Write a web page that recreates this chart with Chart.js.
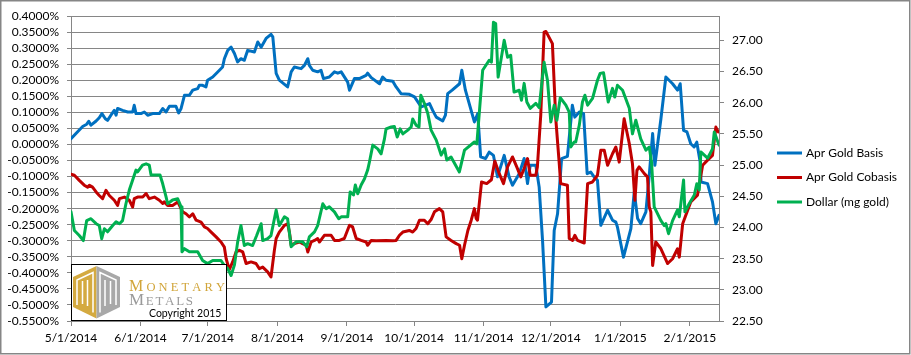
<!DOCTYPE html>
<html>
<head>
<meta charset="utf-8">
<script src="https://cdn.jsdelivr.net/npm/chart.js@4.4.1/dist/chart.umd.min.js"></script>
<style>
  html, body { margin: 0; padding: 0; background: #ffffff; }
  #wrap { width: 911px; height: 355px; position: relative; }
</style>
</head>
<body>
<div id="wrap"><canvas id="c" width="911" height="355"></canvas></div>
<script>
// Day offsets are counted from 5/1/2014 (day 0).
const monthTickDays = [0, 31, 61, 92, 123, 153, 184, 214, 245, 276];
const monthTickLabels = ['5/1/2014', '6/1/2014', '7/1/2014', '8/1/2014', '9/1/2014', '10/1/2014', '11/1/2014', '12/1/2014', '1/1/2015', '2/1/2015'];
const seriesNames = ['Apr Gold Basis', 'Apr Gold Cobasis', 'Dollar (mg gold)'];

// Apr Gold Basis (%), left axis
const basisDays = [0,5.2,7,7.9,8.9,11.2,12.6,13.8,15.3,16.3,17.8,19.3,20.1,20.8,23,25.3,27.5,28.2,29,31.2,32.7,34.2,36.4,39.4,40.9,42.4,43.9,46.8,48,49.1,50.6,52.8,54.3,56.5,57.2,58.7,60.2,60.9,63.2,66.2,67.6,68.4,69.9,71.4,72.9,74.3,75.8,77.3,78.8,81.8,83.3,84.8,87,89.2,90,91.5,92.9,96.6,98.2,99.6,102.6,104.1,105.6,106.3,107.8,110,111.5,112.6,115.2,117.5,119,120.5,123.4,124.2,126.4,128.6,131.6,132.3,133.9,137.6,139,140.5,143.5,145,147.2,150.9,153.2,156.2,159.9,161.3,162.9,165.8,167,168,170,173.3,174.3,175.9,179.9,181.4,182.7,184.9,186.5,188.4,190.2,193.2,195.4,196.9,199.9,202.1,203.6,204.8,207.3,208.8,210.3,211.8,214.3,215.5,217,218.8,221.4,223.6,224.7,226.7,228.6,230.2,231.8,233.3,234.8,236.3,239.3,241.5,243,243.7,246.4,249.7,251.2,252.7,254.1,256.4,257.9,259.4,260.4,263.1,265.3,268.3,270.5,271.7,273.2,274.7,276.4,277.9,279.1,280.6,281,283.9,286.1,287.6,289];
const basisValues = [0.018,0.056,0.063,0.072,0.060,0.073,0.083,0.096,0.080,0.075,0.091,0.106,0.091,0.112,0.106,0.101,0.101,0.122,0.096,0.096,0.101,0.091,0.096,0.096,0.112,0.101,0.119,0.119,0.098,0.112,0.153,0.153,0.169,0.174,0.184,0.184,0.179,0.200,0.210,0.231,0.241,0.267,0.293,0.303,0.283,0.257,0.267,0.262,0.293,0.288,0.319,0.303,0.330,0.343,0.335,0.221,0.200,0.179,0.226,0.241,0.236,0.246,0.267,0.246,0.231,0.226,0.231,0.205,0.210,0.226,0.222,0.226,0.194,0.169,0.205,0.205,0.215,0.222,0.208,0.189,0.210,0.200,0.197,0.179,0.158,0.156,0.148,0.117,0.127,0.106,0.085,0.073,0.091,0.158,0.169,0.189,0.231,0.169,0.070,0.096,-0.039,-0.044,-0.024,-0.034,-0.101,-0.034,-0.101,-0.127,-0.091,-0.044,-0.122,-0.065,-0.065,-0.133,-0.299,-0.506,-0.491,-0.268,-0.216,-0.044,-0.037,0.122,0.085,0.101,0.096,-0.091,-0.086,-0.101,-0.112,-0.252,-0.205,-0.236,-0.242,-0.257,-0.351,-0.262,-0.148,-0.231,-0.247,-0.210,-0.096,0.034,-0.065,0.080,0.210,0.189,0.169,0.189,0.044,0.039,0.002,-0.008,0.007,-0.055,-0.117,-0.122,-0.179,-0.247,-0.221];

// Apr Gold Cobasis (%), left axis
const cobasisDays = [0,1.5,3.7,5.9,7.4,8.2,9.6,11.2,12.6,14.1,15.6,17.1,19.3,20.8,21.6,23.8,26,27.5,28.2,29.7,32,33.5,34.9,37.2,39.4,40.9,41.6,43.1,45.3,47.6,49.8,51.3,52.8,54.3,55.8,58,59.5,60.9,62.5,64.7,66.9,68.4,69.2,70.6,72.1,73.6,75.1,76.6,78.1,80.3,82.5,84,85.5,87.7,89.2,90.7,91.5,92.9,95.2,96.6,97.4,98.2,99.6,101.9,103.3,104.9,105.6,107.1,108.6,110,110.8,113,116,117.5,119.7,121.9,124.2,125.6,127.2,129.4,131.6,132.3,133.9,136.1,140.5,143.5,145,146.5,148,150.9,152.4,153.9,155.4,157.6,159.1,160.6,162.1,164.3,165.8,167.3,169.5,171.8,173.3,174.3,175.5,177,178.5,179.9,180.7,181.3,183.1,185.4,187.5,189,191,192.9,194.7,196.9,198.8,200.6,202.1,203.6,204.8,207.3,208,209.5,211,211.8,214.7,216.2,217.7,218.4,221.4,222.2,223.7,224.7,225.9,228.9,230.4,232.6,234.8,236.3,237.8,239.3,241.5,243,244.5,246.7,249,250.4,251.5,252.4,253.4,255.7,257.1,257.9,258.6,259.4,260.8,263.1,266.1,268.3,270.5,271.3,272.8,276.4,279.4,281.7,283.9,286.1,287.6,288.7];
const cobasisValues = [-0.093,-0.096,-0.112,-0.127,-0.133,-0.127,-0.133,-0.148,-0.159,-0.169,-0.143,-0.159,-0.174,-0.190,-0.169,-0.164,-0.174,-0.195,-0.169,-0.164,-0.164,-0.153,-0.169,-0.164,-0.174,-0.184,-0.179,-0.190,-0.190,-0.179,-0.210,-0.216,-0.226,-0.216,-0.236,-0.242,-0.257,-0.262,-0.273,-0.288,-0.304,-0.320,-0.356,-0.390,-0.366,-0.335,-0.330,-0.335,-0.371,-0.366,-0.371,-0.387,-0.382,-0.397,-0.413,-0.330,-0.293,-0.273,-0.252,-0.247,-0.273,-0.314,-0.309,-0.304,-0.309,-0.314,-0.335,-0.304,-0.299,-0.293,-0.304,-0.283,-0.283,-0.299,-0.299,-0.293,-0.252,-0.257,-0.293,-0.299,-0.304,-0.314,-0.299,-0.300,-0.299,-0.300,-0.299,-0.283,-0.273,-0.268,-0.273,-0.262,-0.236,-0.236,-0.247,-0.234,-0.210,-0.200,-0.210,-0.288,-0.299,-0.309,-0.314,-0.356,-0.314,-0.268,-0.236,-0.200,-0.231,-0.236,-0.117,-0.122,-0.110,-0.052,-0.091,-0.122,-0.070,-0.039,-0.070,-0.101,-0.075,-0.044,-0.096,-0.096,-0.070,0.091,0.350,0.352,0.314,0.080,-0.055,-0.122,-0.127,-0.293,-0.299,-0.283,-0.299,-0.307,-0.122,-0.117,-0.096,-0.018,-0.018,-0.065,-0.029,-0.008,-0.055,0.080,0.002,-0.060,-0.174,-0.081,-0.070,-0.091,-0.101,-0.195,-0.210,-0.377,-0.304,-0.325,-0.371,-0.356,-0.325,-0.351,-0.247,-0.179,-0.158,-0.065,-0.049,-0.034,0.054,0.039];

// Dollar (mg gold), right axis
const dollarDays = [0,1.5,3.7,5.5,7,8.9,11.2,12.6,13.7,14.9,16.3,18.6,20.1,21.6,23,24.5,26,27.5,29,29.7,31.9,33.5,34.9,35.7,38.6,39.7,40.9,42.4,43.1,45.3,47.6,49.1,49.5,50.6,52.8,56.5,58.7,60.9,63.2,66.9,68.4,69.9,71.4,72.9,74.3,75.8,77.3,78.8,81,82.8,84.8,85.5,87.7,89.2,91.5,92.9,95.2,96.6,98.2,100.4,103.3,105.1,106.3,108.6,110,112.3,113.8,115.2,117.5,119.4,120.5,123.4,124.5,126,126.8,127.9,129.4,130.9,132.3,133.1,134.6,136.8,138.3,139.8,140.5,142.8,144.2,145.5,146.8,148,150.2,151.7,152.4,153.9,155.2,156,157.6,159.1,160.6,162.9,165.1,166.6,167.6,169.5,173.2,175.5,179.9,181,183.6,186.5,187.5,188.4,189.4,190.5,193.2,194.7,196.1,197.6,199.9,200.9,202.1,203.3,204.8,207.3,208.8,211,212.5,214,215.5,216.7,218.2,220.7,222.2,222.9,224.4,225.1,226.7,228.1,229.2,230.4,232.6,234.8,236,237.5,239.6,241.5,242.5,243.7,246,249,250.4,251.9,254.1,256.4,257.9,258.9,260.1,263.1,264.6,265.3,266.5,268.3,270.5,271.3,273.2,273.8,275.7,278,279.1,280.2,280.9,283.9,286.1,286.9,289];
const dollarValues = [24.25,23.95,23.87,23.79,24.11,24.14,24.06,24.03,23.82,23.98,23.93,24.03,24.09,24.06,24.11,24.38,24.60,24.76,24.92,24.89,25.00,25.02,25.00,24.84,24.84,24.84,24.70,24.49,24.38,24.44,24.46,24.33,23.61,23.66,23.61,23.61,23.47,23.42,23.47,23.47,23.39,23.34,23.23,23.40,23.76,24.03,23.71,23.74,23.71,23.87,24.06,23.79,23.82,23.87,24.28,24.03,24.17,24.14,23.69,23.77,23.77,23.69,23.85,23.93,24.03,24.38,24.30,24.33,24.25,24.14,24.17,24.17,24.57,24.52,24.68,24.54,24.68,24.78,24.92,25.05,25.32,25.26,25.18,25.42,25.58,25.61,25.62,25.45,25.58,25.50,25.56,25.61,25.74,25.64,25.61,26.12,25.99,25.83,25.56,25.40,25.16,25.26,25.08,25.13,24.89,25.24,25.37,25.34,26.52,26.68,26.65,27.29,27.27,26.41,27.00,26.73,26.76,26.17,26.20,26.04,26.31,26.01,25.91,25.99,25.92,26.65,26.36,25.69,25.96,25.72,26.08,25.96,25.85,25.29,25.37,25.37,25.64,26.01,26.12,25.96,26.07,26.36,26.47,26.48,26.01,26.23,26.09,26.28,26.20,25.91,25.50,25.72,25.42,25.24,25.29,25.05,24.33,24.11,24.03,24.06,23.90,24.11,24.28,24.17,24.76,24.25,24.38,24.52,24.70,24.60,25.21,25.11,25.26,25.53,25.32];

const seriesColors = ['#0070C0', '#C00000', '#00B050'];
const gridGrey = '#868686';

function pairs(xs, ys) { return xs.map((x, i) => ({ x: x, y: ys[i] })); }

function drawSpacedCaps(ctx, text, x, baseline, bigSize, smallSize, totalWidth, color) {
  ctx.fillStyle = color;
  ctx.textBaseline = 'alphabetic';
  ctx.textAlign = 'left';
  const chars = text.split('');
  const fonts = chars.map((c, i) => (i === 0 ? bigSize : smallSize) + 'px "Liberation Serif", serif');
  let natural = 0;
  const widths = chars.map((c, i) => { ctx.font = fonts[i]; const w = ctx.measureText(c).width; natural += w; return w; });
  const gap = chars.length > 1 ? (totalWidth - natural) / (chars.length - 1) : 0;
  let cx = x;
  chars.forEach((c, i) => { ctx.font = fonts[i]; ctx.fillText(c, cx, baseline); cx += widths[i] + gap; });
}

const decorPlugin = {
  id: 'decor',
  afterDraw(chart) {
    const ctx = chart.ctx;
    ctx.save();
    // Legend
    const legendY = [153, 177.5, 202];
    ctx.font = '12px Lato, sans-serif';
    ctx.textBaseline = 'middle';
    ctx.textAlign = 'left';
    seriesNames.forEach((name, i) => {
      ctx.strokeStyle = seriesColors[i];
      ctx.lineWidth = 3;
      ctx.lineCap = 'butt';
      ctx.beginPath();
      ctx.moveTo(777, legendY[i]);
      ctx.lineTo(802, legendY[i]);
      ctx.stroke();
      ctx.fillStyle = '#000';
      ctx.fillText(name, 806, legendY[i]);
    });

    // Logo box
    ctx.fillStyle = '#ffffff';
    ctx.fillRect(71.5, 264.5, 155, 56);
    ctx.strokeStyle = '#000';
    ctx.lineWidth = 1;
    ctx.strokeRect(71.5, 264.5, 155, 56);

    // Logo icon (two-tone hexagon)
    const gold = '#D4AA40', grey = '#A8A8A8';
    ctx.fillStyle = gold;
    ctx.beginPath();
    ctx.moveTo(73, 277); ctx.lineTo(96.5, 266); ctx.lineTo(96.5, 318.5); ctx.lineTo(73, 307); ctx.closePath(); ctx.fill();
    ctx.fillStyle = grey;
    ctx.beginPath();
    ctx.moveTo(96.5, 266); ctx.lineTo(120, 277); ctx.lineTo(120, 307); ctx.lineTo(96.5, 318.5); ctx.closePath(); ctx.fill();
    ctx.strokeStyle = '#ffffff';
    ctx.lineWidth = 1.5;
    ctx.beginPath();
    ctx.moveTo(77, 305); ctx.lineTo(77, 280); ctx.lineTo(93, 272.5); ctx.lineTo(93, 312.5);
    ctx.moveTo(82.5, 304); ctx.lineTo(82.5, 281);
    ctx.moveTo(87.5, 306); ctx.lineTo(87.5, 280);
    ctx.moveTo(100, 312.5); ctx.lineTo(100, 272.5); ctx.lineTo(116, 280); ctx.lineTo(116, 305);
    ctx.moveTo(105, 306); ctx.lineTo(105, 280);
    ctx.moveTo(110.5, 304); ctx.lineTo(110.5, 281);
    ctx.stroke();

    // Logo text
    drawSpacedCaps(ctx, 'MONETARY', 129, 290.7, 16, 12.5, 96, '#D1A53A');
    drawSpacedCaps(ctx, 'METALS', 129, 305.3, 17, 13, 64, '#9A9A9A');
    ctx.fillStyle = '#000';
    ctx.font = '10.5px Lato, sans-serif';
    ctx.textBaseline = 'middle';
    ctx.textAlign = 'left';
    ctx.fillText('Copyright 2015', 149, 313.5);

    // Outer border
    ctx.strokeStyle = gridGrey;
    ctx.lineWidth = 1.5;
    ctx.strokeRect(0.75, 0.75, 909, 353);
    ctx.restore();
  }
};

Chart.defaults.font.family = 'Lato, sans-serif';
Chart.defaults.font.size = 12;
Chart.defaults.color = '#000';

new Chart(document.getElementById('c'), {
  type: 'line',
  data: {
    datasets: [
      { label: seriesNames[0], data: pairs(basisDays, basisValues), borderColor: seriesColors[0], yAxisID: 'y', order: 3 },
      { label: seriesNames[1], data: pairs(cobasisDays, cobasisValues), borderColor: seriesColors[1], yAxisID: 'y', order: 2 },
      { label: seriesNames[2], data: pairs(dollarDays, dollarValues), borderColor: seriesColors[2], yAxisID: 'y2', order: 1 }
    ]
  },
  options: {
    responsive: false,
    animation: false,
    devicePixelRatio: 1,
    layout: { padding: { top: 16, left: 0, right: 0, bottom: 0 } },
    plugins: { legend: { display: false }, tooltip: { enabled: false } },
    elements: {
      point: { radius: 0, hoverRadius: 0 },
      line: { borderWidth: 3, tension: 0, borderJoinStyle: 'round', borderCapStyle: 'round', fill: false }
    },
    scales: {
      x: {
        type: 'linear', min: 0, max: 289,
        afterBuildTicks: (s) => { s.ticks = monthTickDays.map(v => ({ value: v })); },
        afterFit: (s) => { s.height = 34; },
        ticks: {
          autoSkip: false, maxRotation: 0, minRotation: 0, padding: 5,
          callback: (v) => { const i = monthTickDays.indexOf(v); return i >= 0 ? monthTickLabels[i] : ''; }
        },
        grid: { drawOnChartArea: false, drawTicks: true, tickLength: 5, color: gridGrey },
        border: { display: true, color: gridGrey }
      },
      y: {
        position: 'left', min: -0.55, max: 0.40,
        afterFit: (s) => { s.width = 71; },
        ticks: { stepSize: 0.05, autoSkip: false, padding: 8, callback: (v) => (Math.abs(v) < 1e-9 ? 0 : v).toFixed(4) + '%' },
        grid: { color: gridGrey, tickLength: 4 },
        border: { display: true, color: gridGrey }
      },
      y2: {
        position: 'right', min: 22.5, max: 27.39,
        afterFit: (s) => { s.width = 192; },
        ticks: { stepSize: 0.5, autoSkip: false, includeBounds: false, padding: 8, callback: (v) => v.toFixed(2) },
        grid: { drawOnChartArea: false, drawTicks: true, tickLength: 5, color: gridGrey },
        border: { display: true, color: gridGrey }
      }
    }
  },
  plugins: [decorPlugin]
});
</script>
</body>
</html>
